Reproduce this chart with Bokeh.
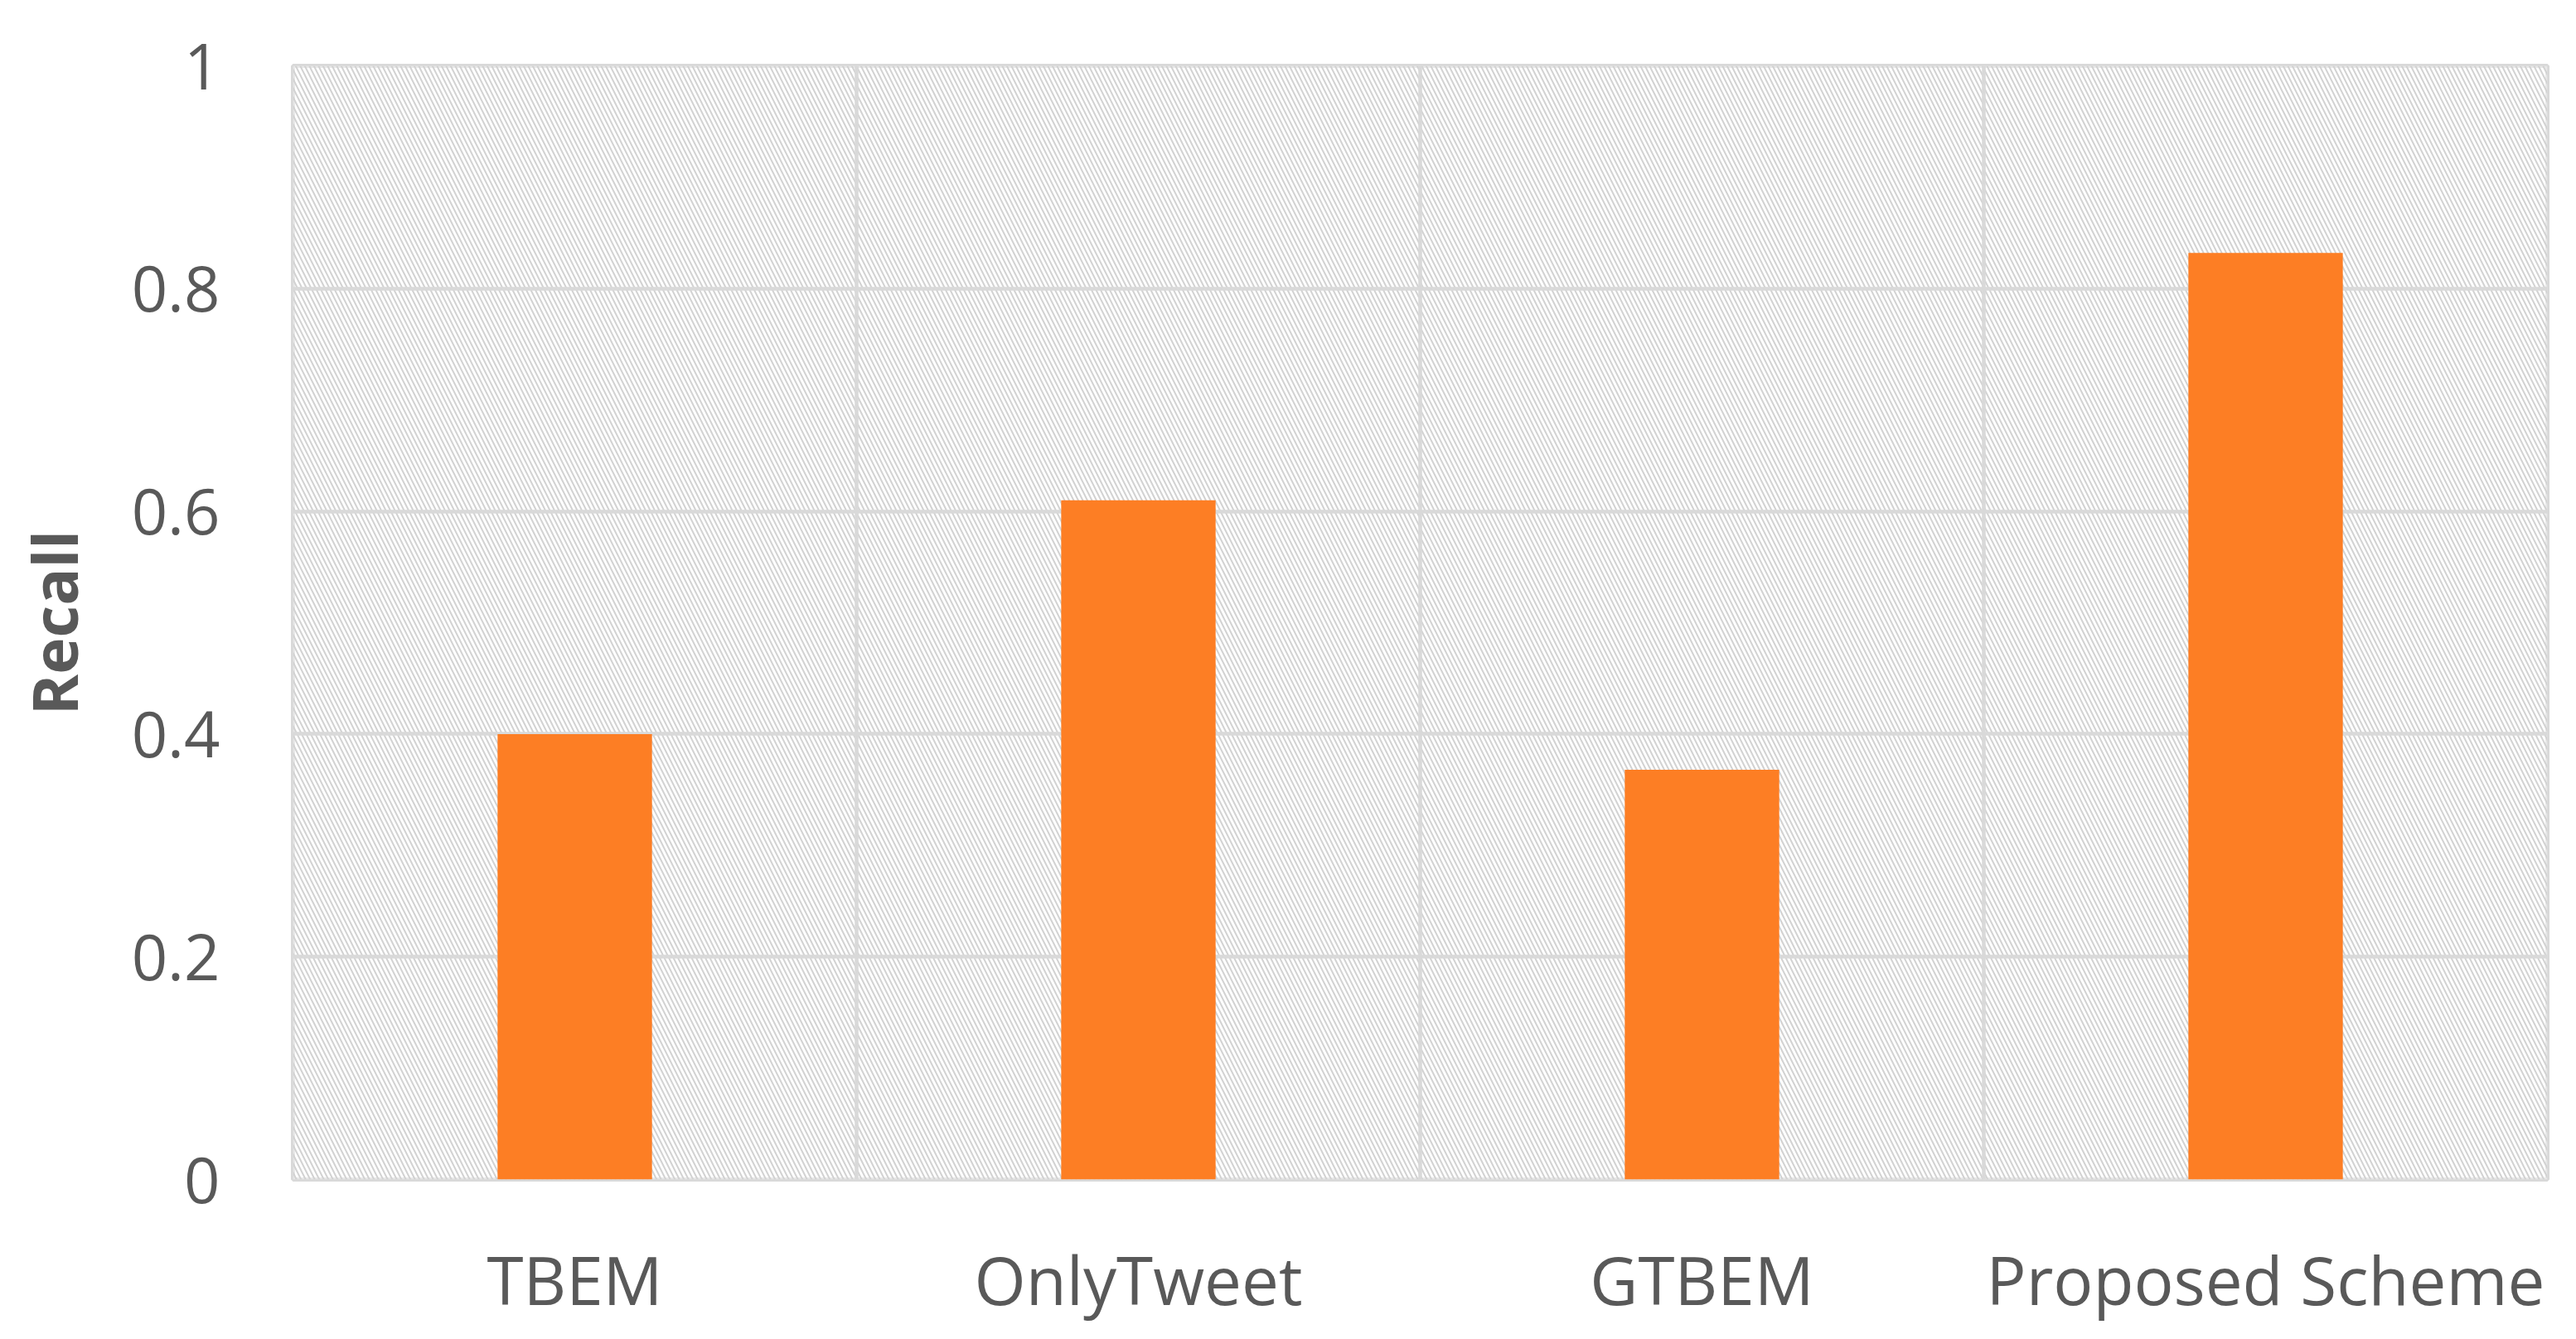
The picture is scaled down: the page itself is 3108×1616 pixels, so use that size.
from bokeh.plotting import figure
from bokeh.models import Range1d, FactorRange, FixedTicker, BoxAnnotation, Span, ColumnDataSource
from bokeh.embed import file_html
from bokeh.resources import INLINE

categories = ["TBEM", "OnlyTweet", "GTBEM", "Proposed Scheme"]
recall = [0.40, 0.61, 0.368, 0.832]
y_ticks = [0, 0.2, 0.4, 0.6, 0.8, 1.0]
y_tick_labels = ["0", "0.2", "0.4", "0.6", "0.8", "1"]

TEXT = "#595959"
GRID = "#d9d9d9"
FONT = "Open Sans"

p = figure(width=3092, height=1600, x_range=FactorRange(factors=categories),
           y_range=Range1d(0, 1), output_backend="svg", toolbar_location=None,
           min_border_left=353, min_border_right=19, min_border_top=79, min_border_bottom=177)

p.background_fill_color = "white"
p.border_fill_color = "white"

bg = BoxAnnotation(level="image", fill_color="white", line_color=None,
                   hatch_pattern="\\", hatch_color="#d2d2d2", hatch_scale=11, hatch_weight=2)
p.add_layout(bg)

for b in range(1, len(categories)):
    p.add_layout(Span(location=b, dimension="height", line_color=GRID, line_width=4.5, level="underlay"))

src = ColumnDataSource(dict(cat=categories, val=recall))
p.vbar(x="cat", top="val", width=0.274, source=src, fill_color="#FD7E24", line_color=None)

p.outline_line_color = GRID
p.outline_line_width = 5

p.xgrid.grid_line_color = None
p.ygrid.grid_line_color = GRID
p.ygrid.grid_line_width = 4.5
p.yaxis.ticker = FixedTicker(ticks=y_ticks)
p.ygrid.ticker = FixedTicker(ticks=y_ticks)
p.yaxis.major_label_overrides = {t: l for t, l in zip(y_ticks, y_tick_labels)}

for ax in (p.xaxis[0], p.yaxis[0]):
    ax.axis_line_color = None
    ax.major_tick_line_color = None
    ax.minor_tick_line_color = None
    ax.major_tick_out = 0
    ax.major_tick_in = 0
    ax.major_label_text_color = TEXT
    ax.major_label_text_font = FONT

p.xaxis.major_label_text_font_size = "80px"
p.xaxis.major_label_standoff = 65
p.yaxis.major_label_text_font_size = "76px"
p.yaxis.major_label_standoff = 88

p.yaxis.axis_label = "Recall"
p.yaxis.axis_label_text_font = FONT
p.yaxis.axis_label_text_font_style = "bold"
p.yaxis.axis_label_text_font_size = "75px"
p.yaxis.axis_label_text_color = TEXT
p.yaxis.axis_label_standoff = 40

open("out.html", "w").write(file_html(p, INLINE))
